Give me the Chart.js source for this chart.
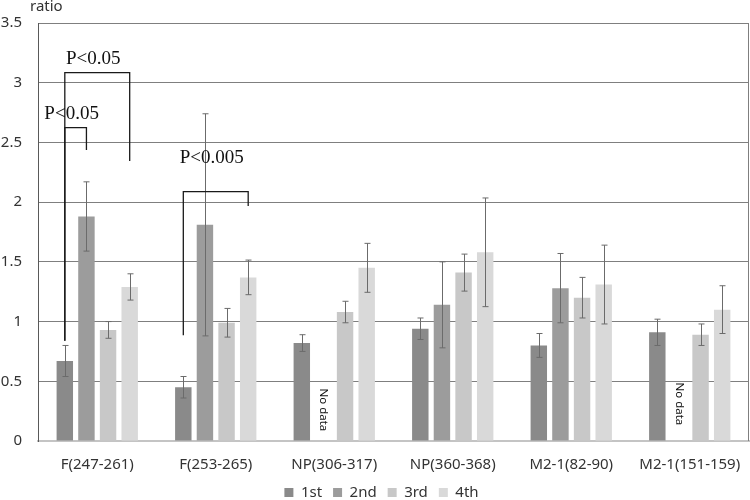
<!DOCTYPE html>
<html lang="en">
<head>
<meta charset="UTF-8">
<title>ratio chart</title>
<script src="https://cdn.jsdelivr.net/npm/chart.js@4.4.1/dist/chart.umd.min.js"></script>
<style>
  body { margin: 0; background: #fff; }
  #wrap { width: 750px; height: 500px; }
</style>
</head>
<body>
<div id="wrap"><canvas id="chart"></canvas></div>
<script>
  // categories on the x axis
  const categories = ['F(247-261)', 'F(253-265)', 'NP(306-317)', 'NP(360-368)', 'M2-1(82-90)', 'M2-1(151-159)'];
  const seriesNames = ['1st', '2nd', '3rd', '4th'];
  const seriesColors = ['#8a8a8a', '#9c9c9c', '#c8c8c8', '#d9d9d9'];

  // mean ratio and error (+/-) per series, null = no data
  const first = [0.67, 0.45, 0.82, 0.94, 0.80, 0.91];
  const firstErr = [0.13, 0.09, 0.07, 0.09, 0.10, 0.11];
  const second = [1.88, 1.81, null, 1.14, 1.28, null];
  const secondErr = [0.29, 0.93, null, 0.36, 0.29, null];
  const third = [0.93, 0.99, 1.08, 1.41, 1.20, 0.89];
  const thirdErr = [0.07, 0.12, 0.09, 0.155, 0.17, 0.09];
  const fourth = [1.29, 1.37, 1.45, 1.58, 1.31, 1.10];
  const fourthErr = [0.11, 0.145, 0.205, 0.455, 0.33, 0.20];

  const yTicks = [0, 0.5, 1, 1.5, 2, 2.5, 3, 3.5];

  // significance brackets: group, bar index on each end, level and end levels in ratio units
  const brackets = [
    {group: 0, fromBar: 0, toBar: 3, level: 3.085, fromEnd: 0.84, toEnd: 2.345, label: 'P<0.05', labelLevel: 3.2},
    {group: 0, fromBar: 0, toBar: 1, level: 2.624, fromEnd: 0.84, toEnd: 2.437, label: 'P<0.05', labelLevel: 2.74},
    {group: 1, fromBar: 0, toBar: 3, level: 2.088, fromEnd: 0.885, toEnd: 1.968, label: 'P<0.005', labelLevel: 2.37}
  ];
  const noData = [{group: 2, level: 0.44}, {group: 5, level: 0.49}];

  const values = [first, second, third, fourth];
  const errors = [firstErr, secondErr, thirdErr, fourthErr];

  const extras = {
    id: 'extras',
    afterLayout(chart) {
      // legend sits a little right of centre in the original
      chart.legend.left += 7;
      chart.legend.right += 7;
    },
    afterDatasetsDraw(chart) {
      const ctx = chart.ctx;
      const ys = chart.scales.y;
      const area = chart.chartArea;
      ctx.save();

      // right border of plot
      ctx.strokeStyle = '#7f7f7f';
      ctx.lineWidth = 1;
      ctx.beginPath();
      ctx.moveTo(area.right - 0.5, area.top);
      ctx.lineTo(area.right - 0.5, area.bottom);
      ctx.stroke();

      // error bars
      ctx.strokeStyle = '#6b6b6b';
      chart.data.datasets.forEach((ds, di) => {
        const meta = chart.getDatasetMeta(di);
        ds.errors.forEach((e, i) => {
          const v = ds.data[i];
          if (v == null || e == null) return;
          const x = Math.round(meta.data[i].x) + 0.5;
          const t = ys.getPixelForValue(v + e), b = ys.getPixelForValue(v - e);
          ctx.beginPath();
          ctx.moveTo(x, t); ctx.lineTo(x, b);
          ctx.moveTo(x - 3, t); ctx.lineTo(x + 3, t);
          ctx.moveTo(x - 3, b); ctx.lineTo(x + 3, b);
          ctx.stroke();
        });
      });

      // brackets
      ctx.strokeStyle = '#1a1a1a';
      ctx.lineWidth = 1.3;
      ctx.fillStyle = '#111';
      ctx.font = '19px "Liberation Serif", serif';
      ctx.textAlign = 'center';
      ctx.textBaseline = 'middle';
      brackets.forEach(br => {
        const x1 = chart.getDatasetMeta(br.fromBar).data[br.group].x;
        const x2 = chart.getDatasetMeta(br.toBar).data[br.group].x;
        const yl = ys.getPixelForValue(br.level);
        ctx.beginPath();
        ctx.moveTo(x1, ys.getPixelForValue(br.fromEnd));
        ctx.lineTo(x1, yl);
        ctx.lineTo(x2, yl);
        ctx.lineTo(x2, ys.getPixelForValue(br.toEnd));
        ctx.stroke();
        ctx.fillText(br.label, (x1 + x2) / 2 - 4, ys.getPixelForValue(br.labelLevel));
      });

      // "No data" notes, rotated
      ctx.font = '11.5px "Noto Sans", sans-serif';
      ctx.textAlign = 'left';
      noData.forEach(nd => {
        const xa = chart.getDatasetMeta(0).data[nd.group].x;
        const xb = chart.getDatasetMeta(2).data[nd.group].x;
        ctx.save();
        ctx.translate((xa + xb) / 2, ys.getPixelForValue(nd.level));
        ctx.rotate(Math.PI / 2);
        ctx.fillText('No data', 0, 0);
        ctx.restore();
      });

      // axis caption
      ctx.font = '15px "Noto Sans", sans-serif';
      ctx.fillStyle = '#333';
      ctx.textAlign = 'left';
      ctx.fillText('ratio', area.left - 8, 7);
      ctx.restore();
    }
  };

  const chart = new Chart(document.getElementById('chart'), {
    type: 'bar',
    data: {
      labels: categories,
      datasets: seriesNames.map((name, i) => ({
        label: name,
        data: values[i],
        errors: errors[i],
        backgroundColor: seriesColors[i],
        categoryPercentage: 0.73,
        barPercentage: 0.76
      }))
    },
    options: {
      responsive: true,
      maintainAspectRatio: false,
      animation: false,
      layout: { padding: { top: 23, left: 0, right: 1, bottom: 0 } },
      plugins: {
        tooltip: { enabled: false },
        legend: {
          position: 'bottom',
          maxHeight: 26,
          labels: {
            boxWidth: 9,
            boxHeight: 9,
            padding: 11,
            color: '#333',
            font: { family: 'Noto Sans', size: 15 }
          }
        }
      },
      scales: {
        x: {
          afterFit: scale => {
            scale.height = 33;
            scale.paddingLeft = 0;
            scale.paddingRight = 0;
          },
          grid: { display: false, drawTicks: false },
          border: { color: '#c4c4c4', width: 2 },
          ticks: { padding: 15, color: '#333', font: { family: 'Noto Sans', size: 15 } }
        },
        y: {
          min: 0,
          max: 3.5,
          afterBuildTicks: scale => { scale.ticks = yTicks.map(v => ({ value: v })); },
          afterFit: scale => {
            scale.width = 38;
            scale.paddingTop = 0;
            scale.paddingBottom = 0;
          },
          grid: { color: '#7f7f7f', drawTicks: false },
          border: { color: '#595959' },
          ticks: {
            padding: 16,
            color: '#333',
            font: { family: 'Noto Sans', size: 15 },
            callback: v => String(v)
          }
        }
      }
    },
    plugins: [extras]
  });
</script>
</body>
</html>
